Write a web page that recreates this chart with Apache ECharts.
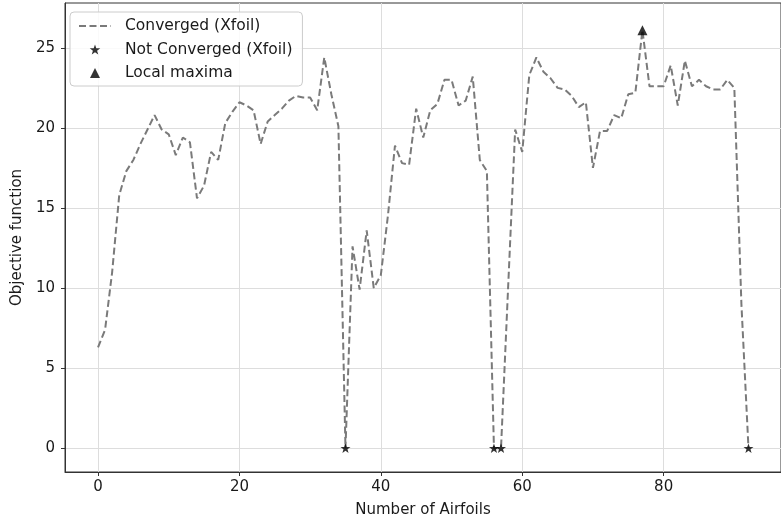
<!DOCTYPE html>
<html>
<head>
<meta charset="utf-8">
<script src="https://cdn.jsdelivr.net/npm/echarts@6/dist/echarts.min.js"></script>
<style>
html,body{margin:0;padding:0;background:#fff;}
#chart{width:781px;height:523px;}
</style>
</head>
<body>
<div id="chart"></div>
<script>
// Objective function value for each airfoil (index = airfoil number)
const objective = [
  6.3, 7.4, 11.0, 15.8, 17.3, 18.0, 19.0, 19.9, 20.8, 19.9,
  19.6, 18.3, 19.4, 19.1, 15.6, 16.4, 18.5, 18.0, 20.3, 21.0,
  21.6, 21.4, 21.1, 19.0, 20.4, 20.8, 21.2, 21.7, 22.0, 21.9,
  21.9, 21.1, 24.4, 22.1, 20.1, 0.0, 12.6, 9.9, 13.6, 10.0,
  10.8, 14.5, 18.9, 17.8, 17.7, 21.2, 19.4, 21.1, 21.5, 23.0,
  23.0, 21.4, 21.7, 23.2, 18.0, 17.3, 0.0, 0.0, 10.0, 19.9,
  18.5, 23.3, 24.4, 23.5, 23.1, 22.5, 22.4, 22.0, 21.3, 21.6,
  17.5, 19.8, 19.8, 20.8, 20.6, 22.1, 22.2, 26.1, 22.6, 22.6,
  22.6, 23.9, 21.4, 24.2, 22.6, 23.0, 22.6, 22.4, 22.4, 23.0,
  22.5, 9.0, 0.0
];
// Airfoils where Xfoil did not converge
const notConverged = [35, 56, 57, 92];
// Local maximum
const localMaxima = [77];
// Tick labels
const xTicks = [0, 20, 40, 60, 80];
const yTicks = [0, 5, 10, 15, 20, 25];

const lineData = objective.map((v, i) => [i, v]);
const ncData = notConverged.map(i => [i, objective[i]]);
const lmData = localMaxima.map(i => [i, objective[i]]);

const STAR = 'path://M0,-10 L2.35,-3.24 L9.51,-3.09 L3.8,1.24 L5.88,8.09 L0,4 L-5.88,8.09 L-3.8,1.24 L-9.51,-3.09 L-2.35,-3.24 Z';
const TRIANGLE = 'path://M0,-1 L1,1 L-1,1 Z';
const FONT = 'DejaVu Sans';
const TXT = '#1a1a1a';
const FRAME = '#333333';

const chart = echarts.init(document.getElementById('chart'), null, {renderer: 'canvas'});
chart.setOption({
  animation: false,
  backgroundColor: '#ffffff',
  textStyle: {fontFamily: FONT},
  grid: {
    left: 65, top: 3, width: 722.5, height: 471,
    show: true, borderColor: FRAME, borderWidth: 1, backgroundColor: 'transparent'
  },
  legend: {
    orient: 'vertical',
    left: 70, top: 12,
    padding: [6, 10, 5, 8],
    itemWidth: 32, itemHeight: 10, itemGap: 7.5,
    backgroundColor: 'rgba(255,255,255,0.85)',
    borderColor: '#cccccc', borderWidth: 1, borderRadius: 4,
    textStyle: {fontFamily: FONT, fontSize: 15.5, color: TXT, lineHeight: 16, padding: [0, 0, 0, 9]},
    data: [
      {name: 'Converged (Xfoil)', itemStyle: {opacity: 0}},
      {name: 'Not Converged (Xfoil)'},
      {name: 'Local maxima'}
    ]
  },
  xAxis: {
    type: 'value',
    min: -4.67, max: 96.6,
    name: 'Number of Airfoils',
    nameLocation: 'middle', nameGap: 31,
    nameTextStyle: {fontFamily: FONT, fontSize: 15, color: TXT},
    axisLine: {show: true, onZero: false, lineStyle: {color: FRAME, width: 1}},
    axisTick: {show: true, inside: false, length: 4, customValues: xTicks, lineStyle: {color: FRAME}},
    axisLabel: {customValues: xTicks, fontFamily: FONT, fontSize: 15, color: TXT, margin: 8},
    splitLine: {show: true, lineStyle: {color: '#dddddd', width: 1}}
  },
  yAxis: {
    type: 'value',
    min: -1.49, max: 27.8,
    name: 'Objective function',
    nameLocation: 'middle', nameGap: 34, nameRotate: 90,
    nameTextStyle: {fontFamily: FONT, fontSize: 15, color: TXT},
    axisLine: {show: true, onZero: false, lineStyle: {color: FRAME, width: 1}},
    axisTick: {show: true, inside: false, length: 4, customValues: yTicks, lineStyle: {color: FRAME}},
    axisLabel: {customValues: yTicks, fontFamily: FONT, fontSize: 15, color: TXT, margin: 10},
    splitLine: {show: true, lineStyle: {color: '#dddddd', width: 1}}
  },
  series: [
    {
      name: 'Converged (Xfoil)',
      type: 'line',
      data: lineData,
      symbol: 'none',
      lineStyle: {color: '#7a7a7a', width: 2, type: [7, 3.5]},
      itemStyle: {color: '#7a7a7a'},
      z: 2
    },
    {
      name: 'Not Converged (Xfoil)',
      type: 'scatter',
      data: ncData,
      symbol: STAR,
      symbolSize: 10,
      symbolKeepAspect: true,
      itemStyle: {color: '#000000'},
      z: 3
    },
    {
      name: 'Local maxima',
      type: 'scatter',
      data: lmData,
      symbol: TRIANGLE,
      symbolSize: 10,
      symbolKeepAspect: true,
      itemStyle: {color: '#000000'},
      z: 3
    }
  ]
});
</script>
</body>
</html>
